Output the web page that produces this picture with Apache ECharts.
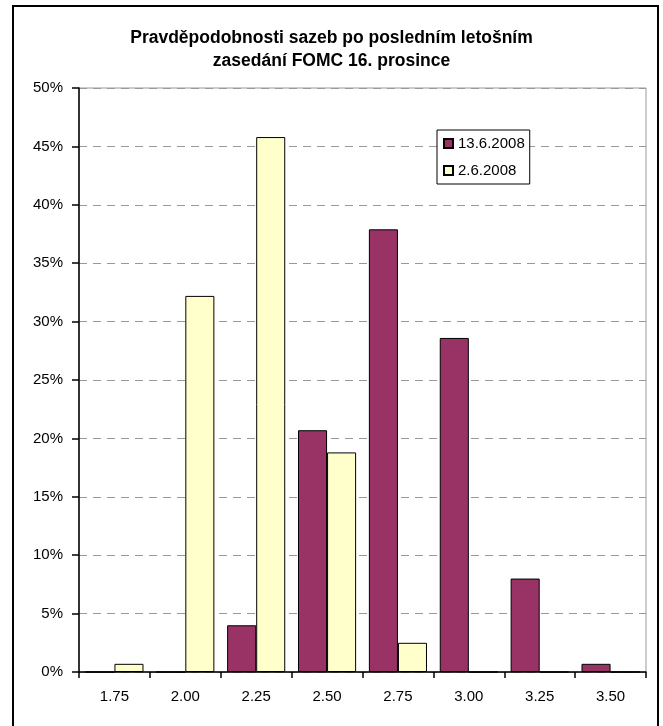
<!DOCTYPE html>
<html>
<head>
<meta charset="utf-8">
<script src="https://cdn.jsdelivr.net/npm/echarts@6/dist/echarts.min.js"></script>
<style>
html,body{margin:0;padding:0;background:#fff;}
#chart{width:663px;height:726px;}
</style>
</head>
<body>
<div id="chart"></div>
<script>
var titleText = 'Pravděpodobnosti sazeb po posledním letošním\nzasedání FOMC 16. prosince';
var categories = ['1.75', '2.00', '2.25', '2.50', '2.75', '3.00', '3.25', '3.50'];
var seriesNames = ['13.6.2008', '2.6.2008'];
var values13June = [0, 0, 4.0, 20.7, 37.9, 28.6, 8.0, 0.7];
var values2June = [0.7, 32.2, 45.8, 18.8, 2.5, 0, 0, 0];
var yTicks = [0, 5, 10, 15, 20, 25, 30, 35, 40, 45, 50];

var chart = echarts.init(document.getElementById('chart'), null, {renderer: 'canvas'});
var font = 'Liberation Sans, Arial, sans-serif';
chart.setOption({
  animation: false,
  backgroundColor: '#ffffff',
  textStyle: {fontFamily: font, color: '#000'},
  title: {
    text: titleText,
    left: 'center',
    top: 22,
    textStyle: {fontFamily: font, fontSize: 17.5, fontWeight: 'bold', color: '#000', lineHeight: 23}
  },
  graphic: [{
    type: 'rect',
    shape: {x: 13, y: 6, width: 645, height: 730},
    style: {fill: null, stroke: '#000', lineWidth: 2},
    silent: true,
    z: 100
  }],
  legend: {
    orient: 'vertical',
    left: 437,
    top: 130,
    padding: [6, 5, 6, 6],
    itemGap: 12,
    itemWidth: 9,
    itemHeight: 9,
    icon: 'rect',
    borderColor: '#000',
    borderWidth: 1,
    backgroundColor: '#fff',
    textStyle: {fontFamily: font, fontSize: 15, color: '#000'},
    data: seriesNames
  },
  grid: {
    left: 79, right: 17, top: 88, bottom: 54,
    show: true,
    borderColor: '#999',
    borderWidth: 1,
    backgroundColor: 'transparent'
  },
  xAxis: {
    type: 'category',
    data: categories,
    axisLine: {lineStyle: {color: '#000', width: 1.5}},
    axisTick: {show: true, length: 6, lineStyle: {color: '#000', width: 1.5}, alignWithLabel: false},
    axisLabel: {fontFamily: font, fontSize: 15, color: '#000', margin: 17}
  },
  yAxis: {
    type: 'value',
    min: 0, max: 50, interval: 5,
    axisLine: {show: true, lineStyle: {color: '#000', width: 1.5}},
    axisTick: {show: true, length: 7, lineStyle: {color: '#000', width: 1.5}},
    axisLabel: {fontFamily: font, fontSize: 15, color: '#000', margin: 16,
      formatter: function (v) { return yTicks.indexOf(v) >= 0 ? v + '%' : ''; }},
    splitLine: {show: true, lineStyle: {color: '#999', type: [8, 6], width: 1}}
  },
  series: [{
    name: seriesNames[0],
    type: 'bar',
    data: values13June,
    barGap: '0%',
    barCategoryGap: '18%',
    itemStyle: {color: '#993366', borderColor: '#000', borderWidth: 1}
  }, {
    name: seriesNames[1],
    type: 'bar',
    data: values2June,
    barGap: '0%',
    barCategoryGap: '18%',
    itemStyle: {color: '#FFFFCC', borderColor: '#000', borderWidth: 1}
  }]
});
</script>
</body>
</html>
